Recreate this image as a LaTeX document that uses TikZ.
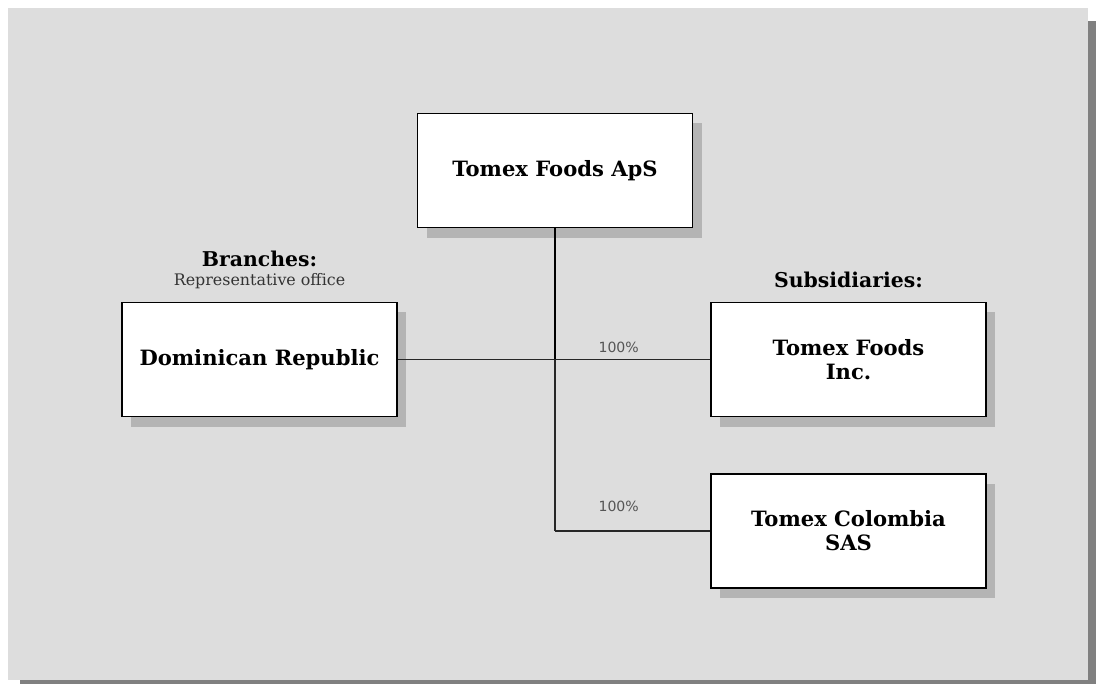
\documentclass[tikz,border=0pt]{standalone}
\usepackage{fontspec}
\setmainfont{DejaVu Serif}
\newfontfamily\pctfont{DejaVu Sans}
\usetikzlibrary{positioning, shadows}
\definecolor{panelGray}{HTML}{DDDDDD}
\definecolor{panelShadow}{HTML}{808080}
\definecolor{boxShadow}{HTML}{B4B4B4}
\definecolor{pctGray}{HTML}{555555}
\tikzset{
    % Boxes
    entity/.style={rectangle, draw=black, fill=white, line width=1pt,
                   minimum width=6.875cm, minimum height=2.85cm, align=center,
                   font=\fontsize{15}{17}\selectfont\bfseries,
                   drop shadow={shadow xshift=0.23cm, shadow yshift=-0.25cm,
                                fill=boxShadow, opacity=1}},
    % Headings
    heading/.style={font=\fontsize{14.5}{17}\selectfont\bfseries, inner sep=1pt},
    subheading/.style={font=\fontsize{11.3}{13}\selectfont, text=black!80, inner sep=1pt},
    % Links & Labels
    link/.style={line width=1pt, black!85},
    mainlink/.style={line width=1.8pt, black},
    pct/.style={font=\pctfont\fontsize{10}{12}\selectfont, text=pctGray, inner sep=1pt}
}

\begin{document}
\begin{tikzpicture}[x=0.025cm, y=-0.025cm]

% panel
\useasboundingbox (0,0) rectangle (1096,684);
\fill[panelShadow] (20,21) rectangle (1096,684);
\fill[panelGray] (8,8) rectangle (1088,680);

\node[entity] (parent) at (555,170.5) {Tomex Foods ApS};
\node[entity] (domrep) at (259.5,359.5) {Dominican Republic};
\node[entity] (tfinc) at (848.5,359.5) {Tomex Foods\\Inc.};
\node[entity] (tcsas) at (848.5,531) {Tomex Colombia\\SAS};

\node[subheading, above=8pt of domrep] (repoff) {Representative office};
\node[heading, above=2pt of repoff] (branches) {Branches:};
\node[heading, above=9pt of tfinc] (subs) {Subsidiaries:};

\coordinate (hub) at (parent.south |- domrep.east);
\coordinate (hublow) at (parent.south |- tcsas.west);

\draw[mainlink] (parent.south) -- (hub);
\draw[link] (hub) -- (hublow);
\draw[link] (domrep.east) -- (hub);
\draw[link] (hub) -- node[pct, pos=0.41, above=3pt] {100\%} (tfinc.west);
\draw[link] (hublow) -- node[pct, pos=0.41, above=12.5pt] {100\%} (tcsas.west);

\end{tikzpicture}
\end{document}
